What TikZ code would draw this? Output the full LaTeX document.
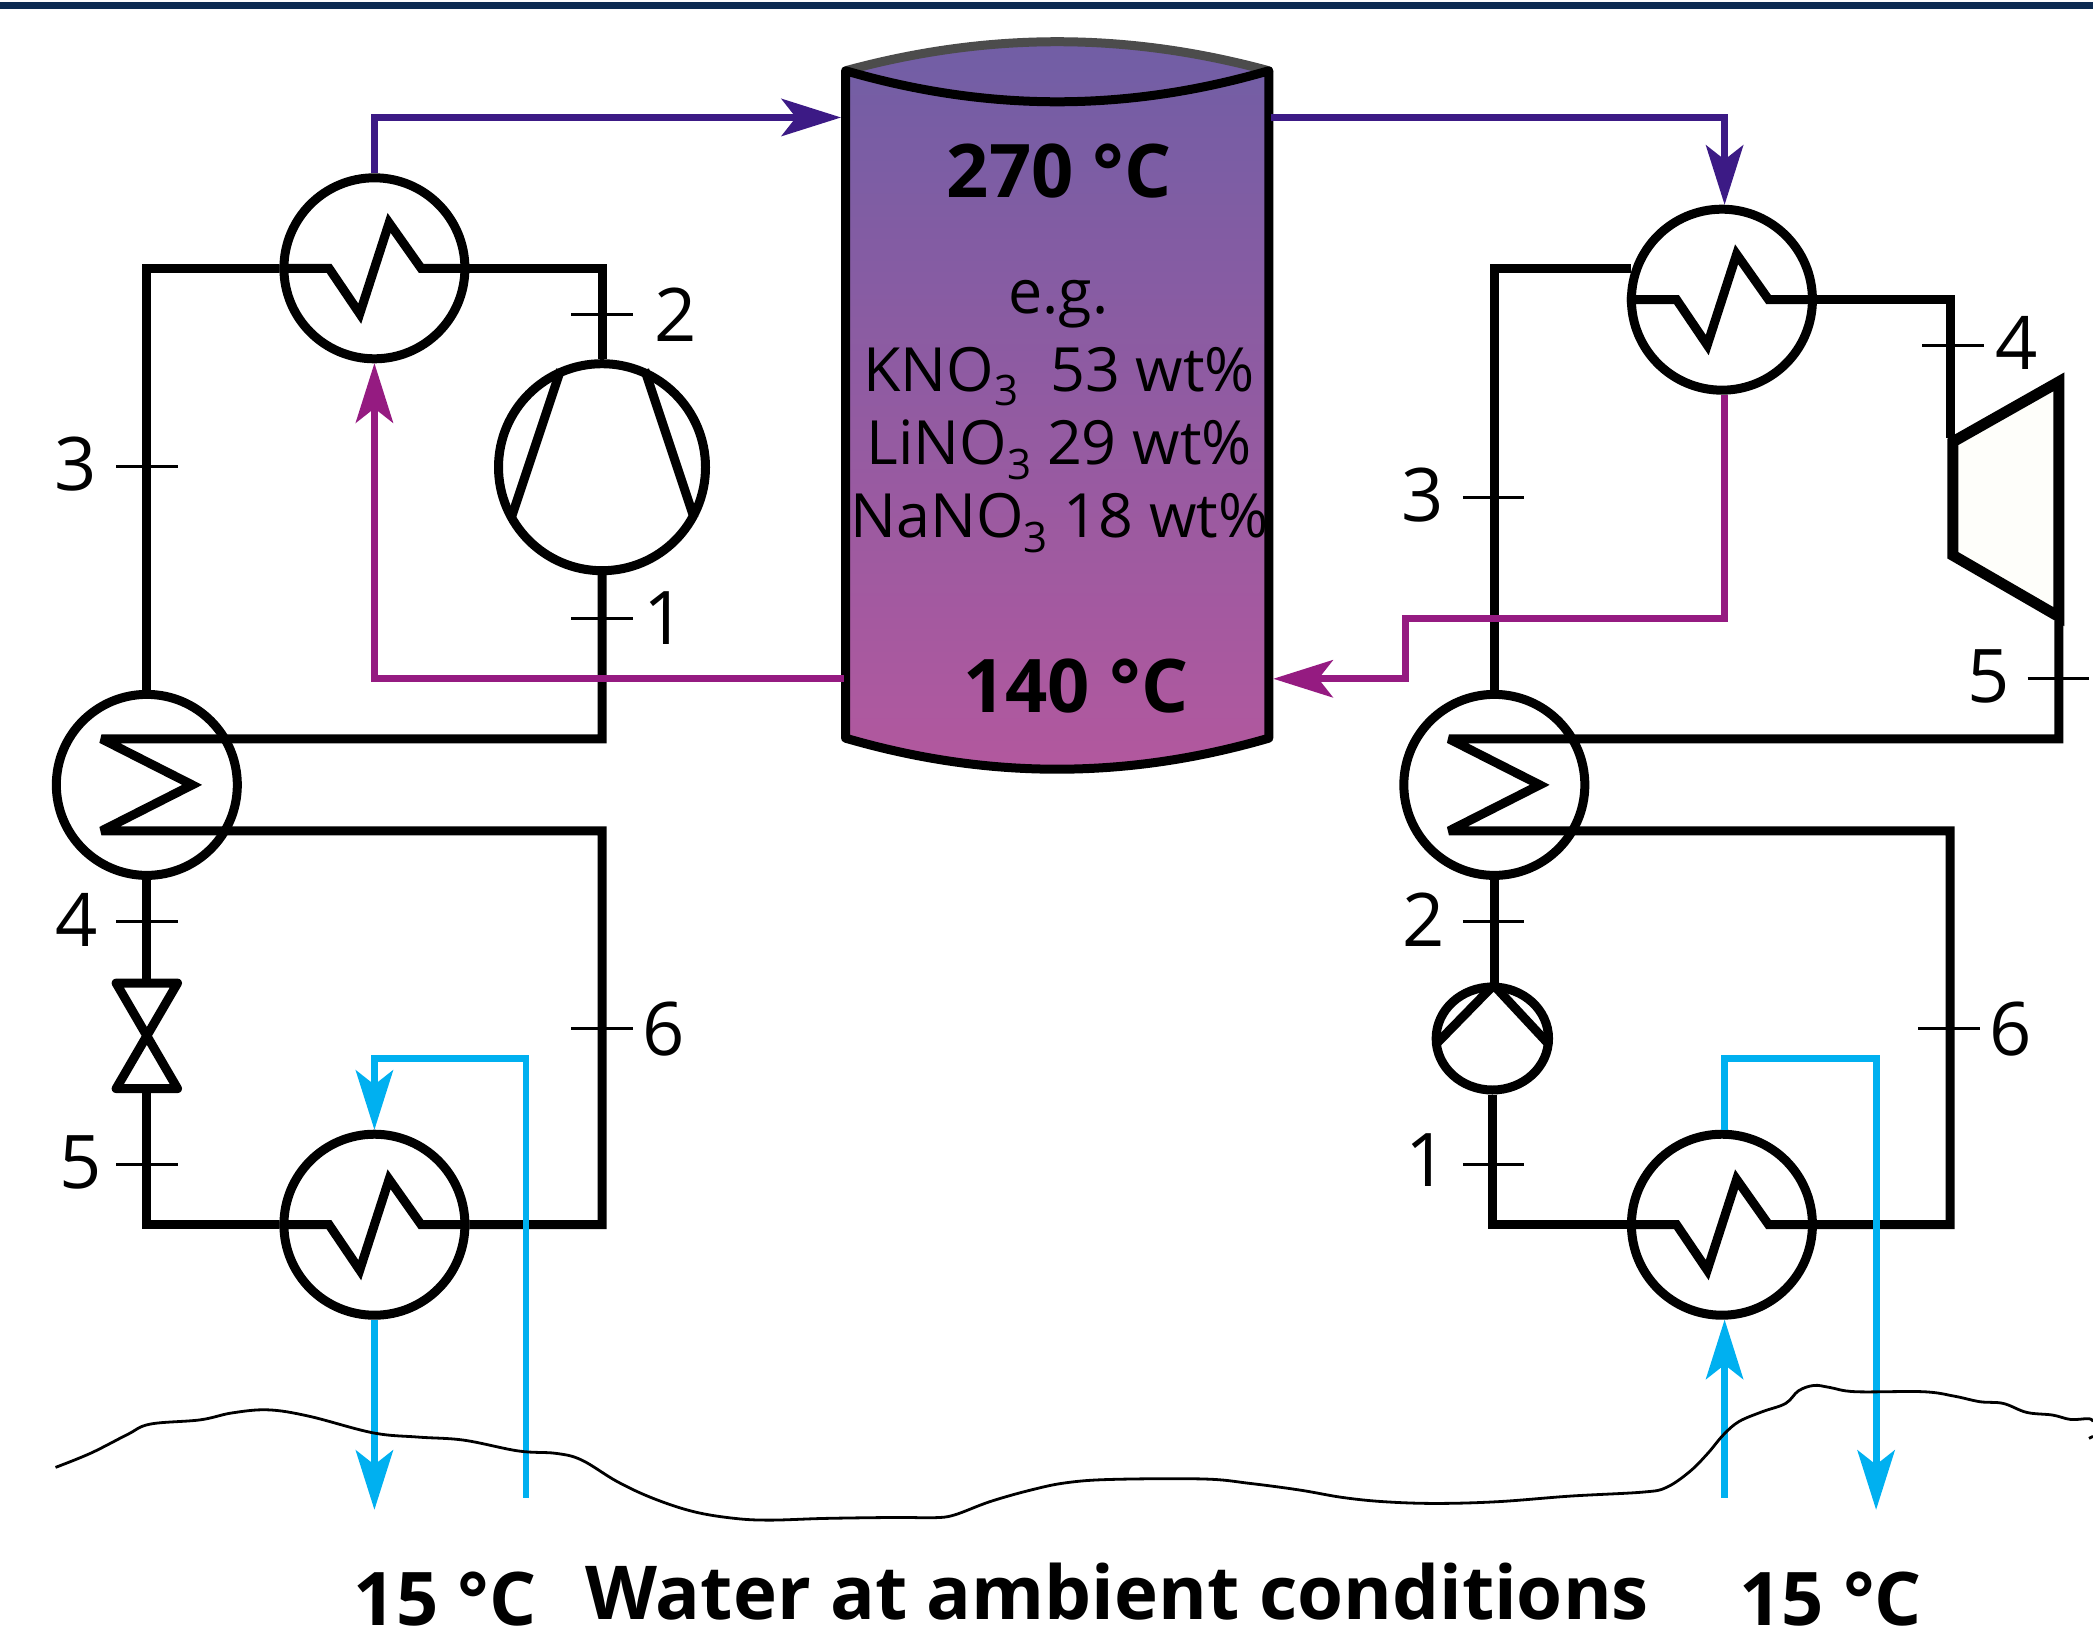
\documentclass[tikz,border=0pt]{standalone}
\usepackage{fontspec}
\setmainfont{Open Sans}
\usetikzlibrary{arrows.meta,calc,shapes.geometric}
\definecolor{hotc}{HTML}{3C1A85}
\definecolor{coldc}{HTML}{951B81}
\definecolor{waterc}{HTML}{00B0F0}
\definecolor{navyc}{HTML}{0D2B52}
\definecolor{tanktop}{HTML}{705EA5}
\definecolor{tankbot}{HTML}{B3589E}
\newcommand{\subthree}{\raisebox{-0.24em}{\fontsize{21}{21}\selectfont 3}}
\newcommand{\zigzagat}[1]{\draw[wire] (#1.west) -- ([shift={(-34,0)}]#1.center) -- ([shift={(-11,34)}]#1.center) -- ([shift={(11,-34)}]#1.center) -- ([shift={(35,0)}]#1.center) -- (#1.east);}
\tikzset{
  wire/.style={line width=4.5pt,line join=miter,miter limit=12},
  condwire/.style={line width=4.5pt,line join=miter,miter limit=3},
  hx/.style={circle,draw,line width=4.5pt,minimum size=90.5pt,inner sep=0pt},
  tickline/.style={line width=1.5pt},
  statelabel/.style={inner sep=0pt,font=\fontsize{37}{37}\selectfont},
  hot/.style={draw=hotc,line width=3.4pt},
  cold/.style={draw=coldc,line width=3.4pt},
  water/.style={draw=waterc,line width=3.4pt},
  tipH/.style={-{Stealth[length=30pt,width=19pt,inset=7.5pt,line width=0pt]}},
  bigtext/.style={inner sep=0pt,font=\fontsize{37}{37}\selectfont\bfseries},
  watertext/.style={inner sep=0pt,font=\fontsize{37.2}{37.2}\selectfont\bfseries},
  tanktext/.style={inner sep=0pt,font=\fontsize{30.5}{30.5}\selectfont},
}
\begin{document}
\begin{tikzpicture}[x=0.6674pt,y=-0.6674pt]
\useasboundingbox (0,0) rectangle (1568,1219);
\clip (0,0) rectangle (1568,1219);
\fill[navyc] (0,1.5) rectangle (1568,7);

% tank
\coordinate (tl) at (633.5,53);
\coordinate (tr) at (950.5,53);
\coordinate (bl) at (633.5,553);
\coordinate (br) at (950.5,553);
\shade[top color=tanktop,bottom color=tankbot] (tl) .. controls (740,24) and (844,24) .. (tr) -- (br) .. controls (844,584) and (740,584) .. (bl) -- cycle;
\draw[draw=black!70,line width=4.5pt,line cap=round] (tl) .. controls (740,24) and (844,24) .. (tr);
\draw[line width=4.5pt,line join=round] (tl) -- (bl) .. controls (740,584) and (844,584) .. (br) -- (tr) .. controls (844,84) and (740,84) .. cycle;
\coordinate (tankHotIn) at (630,88);
\coordinate (tankHotOut) at (952,88);
\coordinate (tankColdOut) at (632,508.5);
\coordinate (tankColdIn) at (954,508.5);

% components
\node[hx] (hxA) at (280.5,201) {};
\node[hx] (hxB) at (280.5,917.5) {};
\node[hx] (hxC) at (1290,224.5) {};
\node[hx] (hxD) at (1290,917.5) {};
\node[hx] (condL) at (110,588) {};
\node[hx] (condR) at (1119.5,588) {};
\node[circle,draw,line width=4.5pt,minimum size=103.5pt,inner sep=0pt] (comp) at (451,350) {};
\node[ellipse,draw,line width=4.5pt,minimum width=56.2pt,minimum height=51.5pt,inner sep=0pt] (pump) at (1118,778) {};
\zigzagat{hxA}\zigzagat{hxB}\zigzagat{hxC}\zigzagat{hxD}

% compressor blades
\draw[wire] (420,277) -- (383,388);
\draw[wire] (483,277) -- (520,388);
% pump lines
\coordinate (pumpApex) at (1119,738);
\draw[wire] (1076,782) -- (pumpApex) -- (1160,782);

% valve
\draw[line width=4.5pt,line join=round] (87,736.5) -- (133,736.5) -- (87,815.5) -- (133,815.5) -- cycle;
\coordinate (valveTop) at (110,736.5);
\coordinate (valveBot) at (110,815.5);

% left cycle
\draw[wire] (condL.north) |- (hxA.west);
\draw[wire] (hxA.east) -| (comp.north);
\draw[condwire] (comp.south) -- (451,553.5) -- (76,553.5) -- ([shift={(34,0)}]condL.center) -- (76,622.5) -- (451,622.5) |- (hxB.east);
\draw[wire] (condL.south) -- (valveTop);
\draw[wire] (valveBot) |- (hxB.west);

% right cycle
\coordinate (turbIn) at (1461.5,328);
\coordinate (turbOut) at (1542.5,465);
\draw[wire] (condR.north) -- (1119.5,201.5) -- (1222,201.5);
\draw[wire] (hxC.east) -| (turbIn);
\draw[condwire] (turbOut) -- (1542.5,553.5) -- (1085.5,553.5) -- ([shift={(34,0)}]condR.center) -- (1085.5,622.5) -- (1461,622.5) |- (hxD.east);
\draw[wire] (condR.south) -- (condR.south |- pumpApex);
\draw[wire] (pump.south) |- (hxD.west);
\draw[line width=5.5pt,fill={rgb,255:red,254;green,254;blue,250},miter limit=12] (1463,331) -- (1542.5,286) -- (1542.5,462) -- (1463,416) -- cycle;

% ticks and labels
\draw[tickline] (87,349.5) -- (133,349.5);
\draw[tickline] (428,235.5) -- (474,235.5);
\draw[tickline] (428,463.5) -- (474,463.5);
\draw[tickline] (87,690.5) -- (133,690.5);
\draw[tickline] (87,872.5) -- (133,872.5);
\draw[tickline] (428,770.5) -- (474,770.5);
\draw[tickline] (1440,258.5) -- (1486,258.5);
\draw[tickline] (1096,372.5) -- (1142,372.5);
\draw[tickline] (1519,508.5) -- (1565,508.5);
\draw[tickline] (1096,690.5) -- (1142,690.5);
\draw[tickline] (1096,872.5) -- (1142,872.5);
\draw[tickline] (1437,770.5) -- (1483,770.5);
\node[statelabel] (l3) at (56.5,348) {3};
\node[statelabel] (l2) at (506,236) {2};
\node[statelabel] (l1) at (498,463) {1};
\node[statelabel] (l4) at (57.5,689) {4};
\node[statelabel] (l5) at (60.5,871) {5};
\node[statelabel] (l6) at (497,771) {6};
\node[statelabel] (r4) at (1511,257) {4};
\node[statelabel] (r3) at (1066,371) {3};
\node[statelabel] (r5) at (1489.5,507) {5};
\node[statelabel] (r2) at (1066.5,689) {2};
\node[statelabel] (r1) at (1068.5,869) {1};
\node[statelabel] (r6) at (1506,771) {6};

% heat-transfer fluid
\draw[hot,tipH] (hxA.north) |- (tankHotIn);
\draw[hot,tipH] (tankHotOut) -| ($(hxC.north)+(2,0)$);
\draw[cold,tipH] (tankColdOut) -| (hxA.south);
\draw[cold,tipH] ($(hxC.south)+(2,0)$) -- (1292,463.5) -- (1053,463.5) |- (tankColdIn);

% water
\coordinate (wInL) at (394,1122);
\coordinate (wOutL) at (280.5,1131);
\coordinate (wInR) at (1292,1122);
\coordinate (wOutR) at (1405.5,1131);
\draw[water,tipH] (hxB.south) -- (wOutL);
\draw[water,tipH] (wInL) -- (394,793) -| (hxB.north);
\draw[water,tipH] (wInR) -- ($(hxD.south)+(2,0)$);
\draw[water,tipH] ($(hxD.north)+(2,0)$) -- (1292,793) -| (wOutR);

% ground line
\draw[line width=1.4pt] plot[smooth,tension=0.6] coordinates {(41.6,1099.3) (68.1,1088.6) (95.4,1074.7) (112.4,1066.9) (149.9,1063.7) (173.8,1058.5) (201,1056.2) (231.7,1061) (279.4,1073.4) (313.4,1076.6) (347.5,1078.9) (388.4,1087) (416.6,1088.8) (435.8,1093.8) (462.5,1110) (489.3,1122.5) (519.8,1132.5) (550.4,1137.5) (577.2,1138.8) (619.2,1137.5) (672.7,1136.8) (699.5,1137) (714.8,1135) (741.5,1125) (772.1,1116.3) (798.8,1110.8) (833.2,1108.3) (902,1108) (936.4,1111.3) (973.9,1116.3) (1005.6,1121.8) (1036.7,1125) (1075.5,1126.3) (1122,1125) (1176.5,1120.8) (1230.9,1117.8) (1248.4,1114.3) (1265.8,1102.5) (1279.4,1088.8) (1291,1075) (1302.7,1065) (1320.2,1057.6) (1337.7,1051.4) (1347.4,1041.9) (1359,1037.9) (1370.7,1039.4) (1390,1042.6) (1440.6,1042.6) (1463.9,1045.9) (1483.3,1050.1) (1500.8,1051.4) (1518.3,1058.1) (1537.7,1060.1) (1551.3,1063.4) (1564.9,1062.8) (1568,1065)};
\draw[line width=1.4pt] (1565,1077.6) -- (1568,1076);

% texts
\node[bigtext] (t270) at (793.5,128) {270 °C};
\node[bigtext] (t140) at (806,514) {140 °C};
\node[tanktext] (teg) at (793,228) {e.g.};
\node[tanktext] (tk) at (793.5,282) {KNO\subthree\ \ 53 wt\%};
\node[tanktext] (tl2) at (793.5,337) {LiNO\subthree\ 29 wt\%};
\node[tanktext] (tn) at (793.5,392) {NaNO\subthree\ 18 wt\%};
\node[watertext] (tw) at (837,1192) {Water at ambient conditions};
\node[bigtext] (t15l) at (333.5,1198) {15 °C};
\node[bigtext] (t15r) at (1371.5,1198) {15 °C};
\end{tikzpicture}
\end{document}
